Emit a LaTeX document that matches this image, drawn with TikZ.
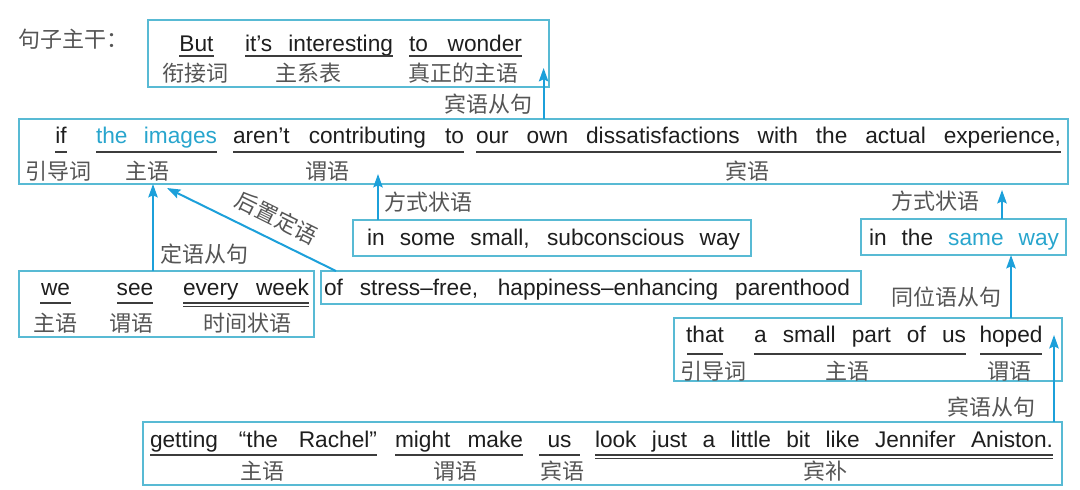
\documentclass[tikz,border=0pt]{standalone}
\usepackage{fontspec}
\setmainfont{Liberation Sans}
\newfontfamily\cjk{Noto Sans CJK SC}
\usetikzlibrary{arrows.meta,fit}
\newdimen\px \px=0.75pt
\definecolor{boxc}{RGB}{88,186,212}
\definecolor{arrc}{RGB}{28,160,218}
\definecolor{bluet}{RGB}{40,165,205}
\definecolor{labc}{RGB}{85,85,85}
\definecolor{txtc}{RGB}{30,30,30}
\definecolor{ulc}{RGB}{60,60,60}
\newcommand{\wseg}[2]{\makebox[#1\px][s]{#2}}
\newcommand{\cseg}[2]{\makebox[#1\px][c]{#2}}
\begin{document}
\begin{tikzpicture}[x=0.75pt,y=-0.75pt,
 bx/.style={draw=boxc,line width=1.1pt,inner sep=0pt,outer sep=0pt},
 en/.style={inner sep=0pt,outer sep=0pt,anchor=base west,text=txtc,font=\fontsize{17}{20}\selectfont},
 lb/.style={inner sep=0pt,outer sep=0pt,text=labc,font=\cjk\fontsize{16.5}{20}\selectfont},
 ul/.style={draw=ulc,line width=0.9pt},
 dul/.style={draw=ulc,line width=0.7pt},
 arr/.style={draw=arrc,line width=1.5pt,-{Stealth[length=10pt,width=7pt,inset=1.5pt]}}
]
\useasboundingbox (0,0) rectangle (1080,489);

% boxes
\node[bx,fit={(148,20) (549,87)}] (b1) {};
\node[bx,fit={(19,119) (1068,184)}] (b2) {};
\node[bx,fit={(353,220) (751,256)}] (bsome) {};
\node[bx,fit={(861,219) (1066,255)}] (bsame) {};
\node[bx,fit={(19,271) (314,337)}] (bwe) {};
\node[bx,fit={(321,271) (861,304)}] (bof) {};
\node[bx,fit={(674,318) (1062,381)}] (bthat) {};
\node[bx,fit={(143,422) (1062,485)}] (bbot) {};

% heading
\node[lb,anchor=west] (head) at (18,39) {句子主干：};

% box 1
\node[en] (t11) at (179,51) {\cseg{35}{But}};
\node[en] (t12) at (245,51) {\wseg{148}{it’s interesting}};
\node[en] (t13) at (409,51) {\wseg{113}{to wonder}};
\coordinate (u1) at (0,56);
\foreach \n in {t11,t12,t13} \draw[ul] (\n.west |- u1) -- (\n.east |- u1);
\node[lb] (l11) at (195,73) {衔接词};
\node[lb] (l12) at (308,73) {主系表};
\node[lb] (l13) at (463,73) {真正的主语};

% box 2
\node[en] (t21) at (55,143) {\cseg{12}{if}};
\node[en] (t22) at (96,143) {\wseg{121}{\color{bluet}the images}};
\node[en] (t23) at (233,143) {\wseg{231}{aren’t contributing to}};
\node[en] (t24) at (476,143) {\wseg{585}{our own dissatisfactions with the actual experience,}};
\coordinate (u2) at (0,152);
\foreach \n in {t21,t22,t23,t24} \draw[ul] (\n.west |- u2) -- (\n.east |- u2);
\node[lb] (l21) at (58,171) {引导词};
\node[lb] (l22) at (147,171) {主语};
\node[lb] (l23) at (327,171) {谓语};
\node[lb] (l24) at (747,171) {宾语};

% single line boxes
\node[en] (tsome) at (367,245.5) {\wseg{373}{in some small, subconscious way}};
\node[en] (tsame) at (869,245.5) {\wseg{190}{in the \textcolor{bluet}{same way}}};
\node[en] (tof) at (324,295.5) {\wseg{526}{of stress–free, happiness–enhancing parenthood}};

% we box
\node[en] (t31) at (40,295.5) {\cseg{31}{we}};
\node[en] (t32) at (117,295.5) {\cseg{36}{see}};
\node[en] (t33) at (183,295.5) {\wseg{126}{every week}};
\coordinate (u3) at (0,303);
\coordinate (u3b) at (0,306);
\foreach \n in {t31,t32,t33} \draw[ul] (\n.west |- u3) -- (\n.east |- u3);
\draw[dul] (t33.west |- u3b) -- (t33.east |- u3b);
\node[lb] (l31) at (55,323) {主语};
\node[lb] (l32) at (131,323) {谓语};
\node[lb] (l33) at (247,323) {时间状语};

% that box
\node[en] (t41) at (687,342) {\cseg{36}{that}};
\node[en] (t42) at (754,342) {\wseg{212}{a small part of us}};
\node[en] (t43) at (980,342) {\cseg{62}{hoped}};
\coordinate (u4) at (0,354);
\foreach \n in {t41,t42,t43} \draw[ul] (\n.west |- u4) -- (\n.east |- u4);
\node[lb] (l41) at (713,371) {引导词};
\node[lb] (l42) at (847,371) {主语};
\node[lb] (l43) at (1009,371) {谓语};

% bottom box
\node[en] (t51) at (150,447) {\wseg{227}{getting “the Rachel”}};
\node[en] (t52) at (395,447) {\wseg{128}{might make}};
\node[en] (t53) at (539,447) {\cseg{41}{us}};
\node[en] (t54) at (595,447) {\wseg{458}{look just a little bit like Jennifer Aniston.}};
\coordinate (u5) at (0,455);
\coordinate (u5b) at (0,458);
\foreach \n in {t51,t52,t53,t54} \draw[ul] (\n.west |- u5) -- (\n.east |- u5);
\draw[dul] (t54.west |- u5b) -- (t54.east |- u5b);
\node[lb] (l51) at (262,471) {主语};
\node[lb] (l52) at (455,471) {谓语};
\node[lb] (l53) at (562,471) {宾语};
\node[lb] (l54) at (825,471) {宾补};

% arrows
\coordinate (p1) at (543.6,68);
\draw[arr] (b2.north -| p1) -- (p1);
\node[lb] (a1) at (488,104) {宾语从句};

\coordinate (p2) at (153,184);
\draw[arr] (bwe.north -| p2) -- (b2.south -| p2);
\node[lb] (a2) at (204,254) {定语从句};

\coordinate (p3s) at (336,0);
\coordinate (p3) at (167,188);
\draw[arr] (bof.north -| p3s) -- (p3);
\node[lb,rotate=-26.4] (a3) at (277,218) {后置定语};

\coordinate (p4) at (378,174);
\draw[arr] (bsome.north -| p4) -- (p4);
\node[lb] (a4) at (428,202) {方式状语};

\coordinate (p5) at (1002,190);
\draw[arr] (bsame.north -| p5) -- (p5);
\node[lb] (a5) at (935,201) {方式状语};

\coordinate (p6) at (1011,0);
\draw[arr] (bthat.north -| p6) -- (bsame.south -| p6);
\node[lb] (a6) at (946,297) {同位语从句};

\coordinate (p7) at (1054,335);
\draw[arr] (bbot.north -| p7) -- (p7);
\node[lb] (a7) at (991,407) {宾语从句};
\end{tikzpicture}
\end{document}
